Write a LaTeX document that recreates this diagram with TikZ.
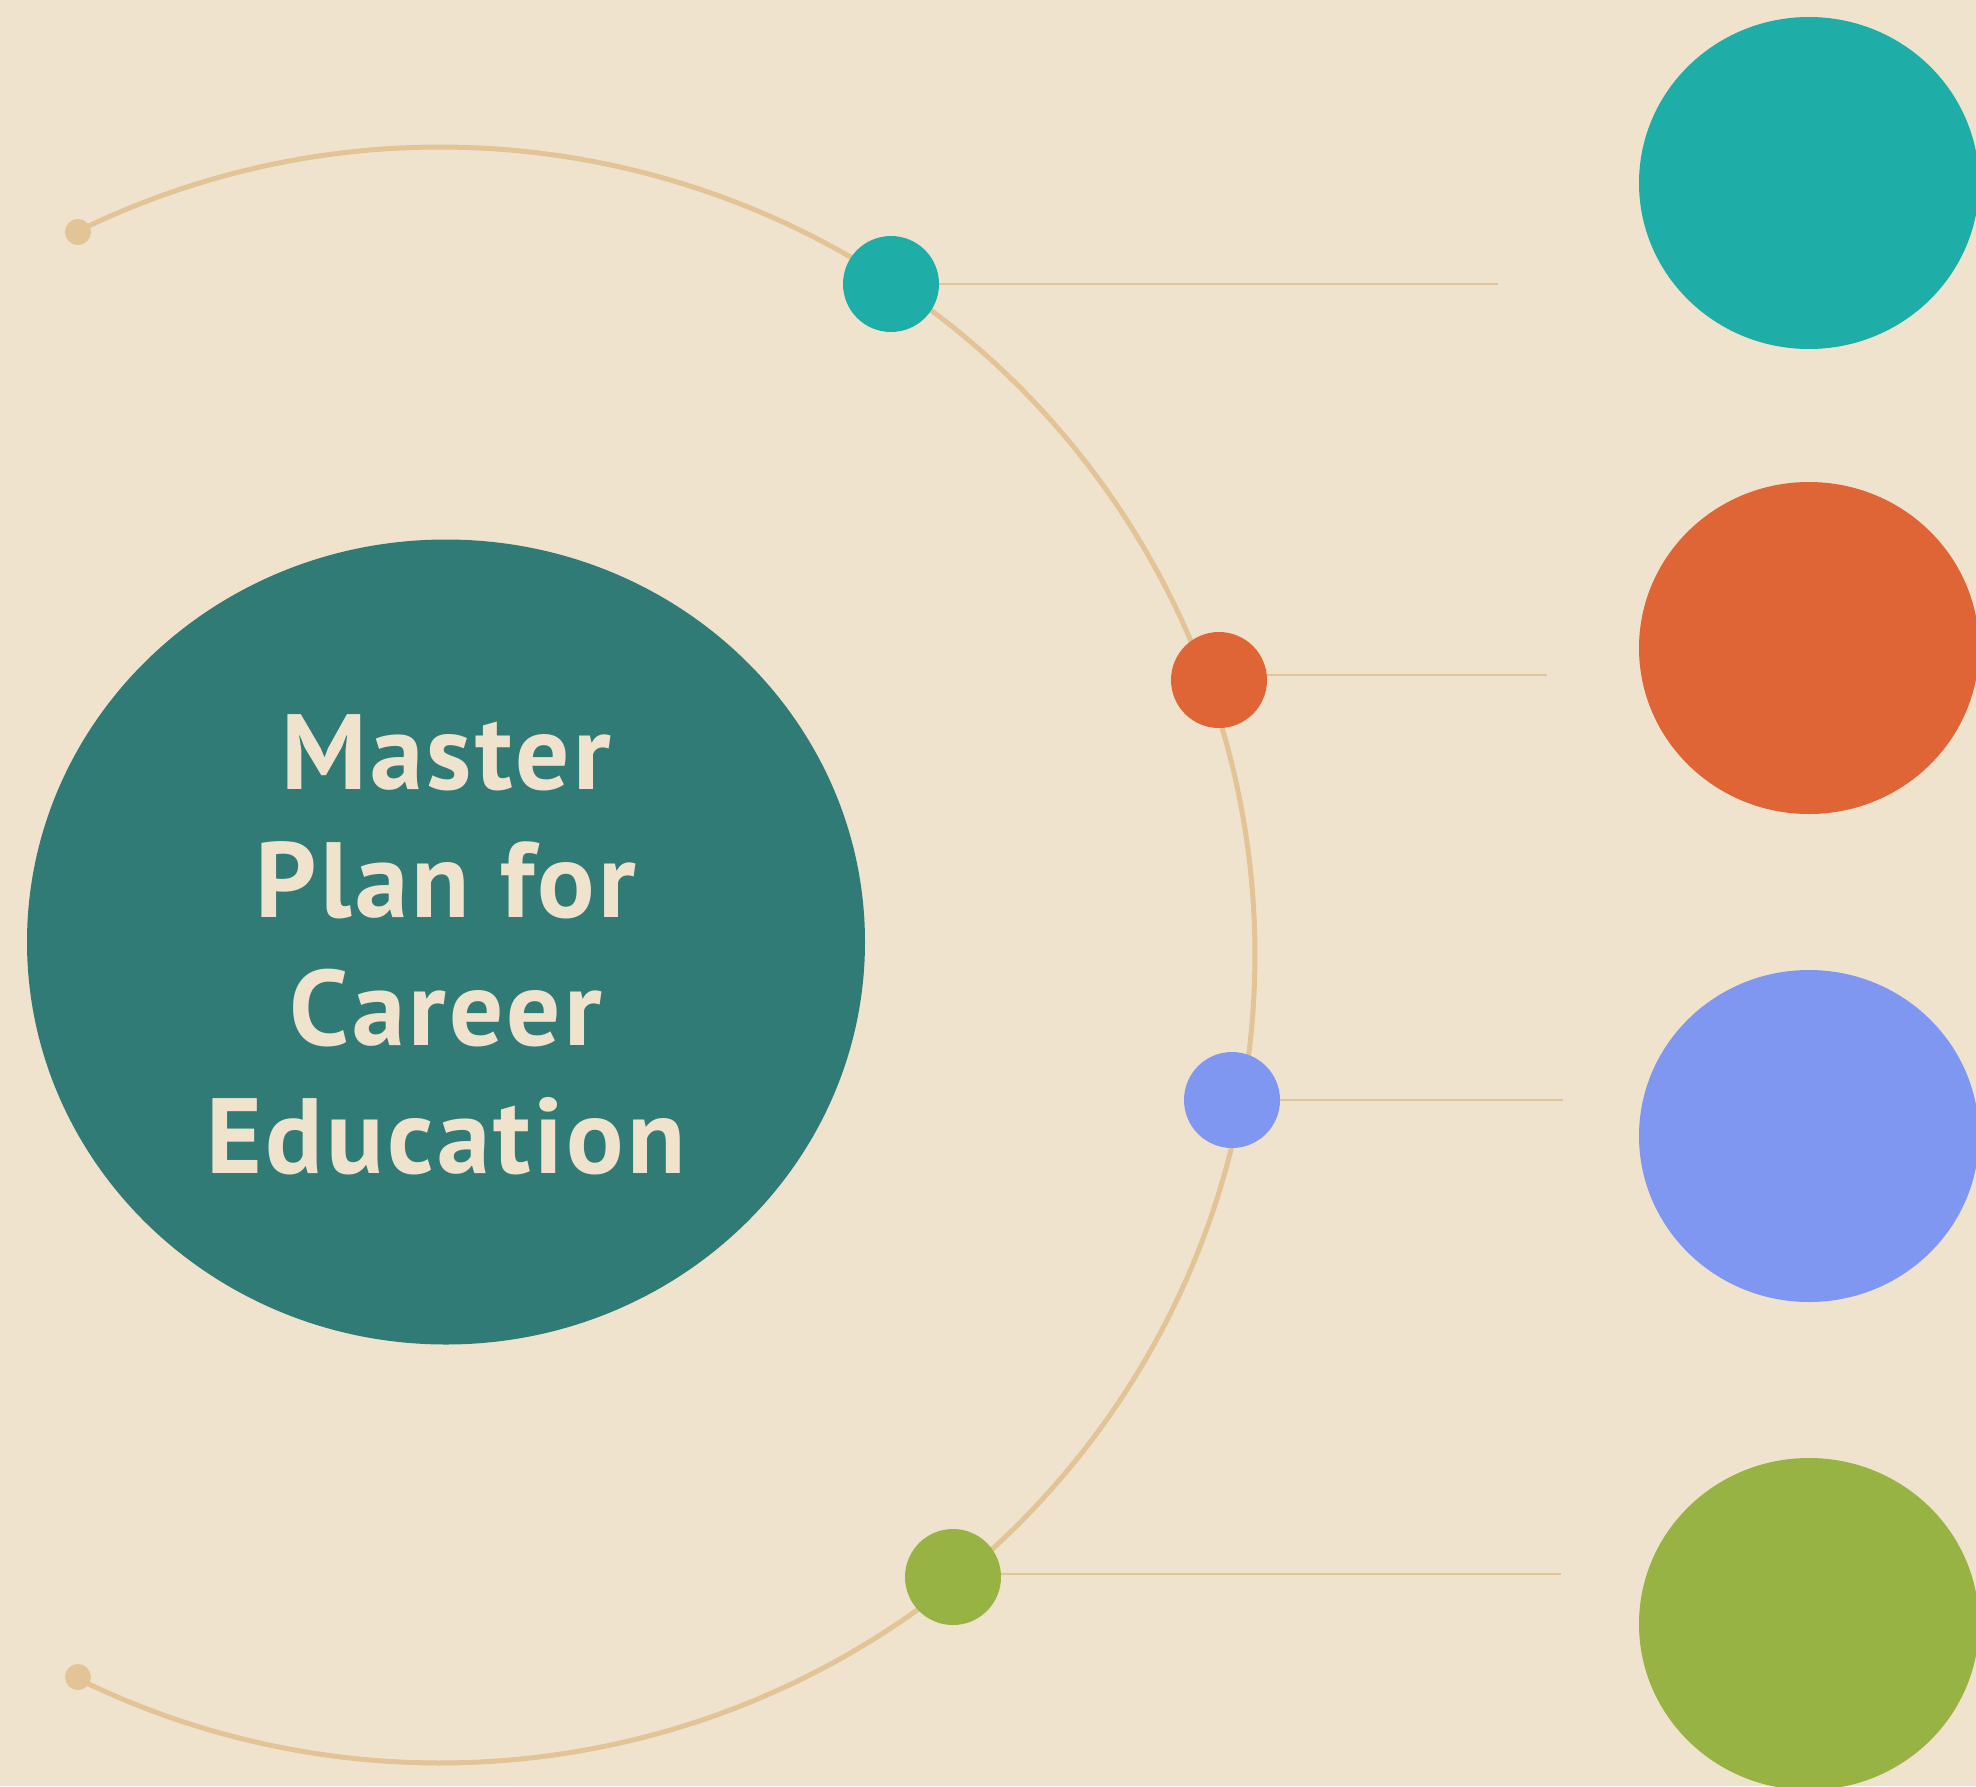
\documentclass[tikz,border=0pt]{standalone}
\usepackage{fontspec}
\setmainfont{PT Sans}[LetterSpace=3.2]
\usetikzlibrary{shapes.geometric}
\definecolor{bg}{HTML}{F0E3CD}
\definecolor{arcc}{HTML}{E2C496}
\definecolor{tealc}{HTML}{1FADA7}
\definecolor{darkc}{HTML}{317B77}
\definecolor{orangec}{HTML}{E06536}
\definecolor{bluec}{HTML}{8097F2}
\definecolor{greenc}{HTML}{96B343}
\tikzset{
  dot/.style={circle, fill=#1, draw=none, minimum size=96pt, inner sep=0pt},
  endcap/.style={circle, fill=arcc, draw=none, minimum size=26pt, inner sep=0pt},
  big/.style={ellipse, fill=#1, draw=none, minimum width=340pt, minimum height=332pt, inner sep=0pt},
  tick/.style={draw=arcc, line width=2pt},
  title/.style={text=bg, anchor=base, font=\fontsize{107}{128}\selectfont\bfseries},
}
\begin{document}
\begin{tikzpicture}[x=1pt,y=-1pt]
\fill[bg] (0,0) rectangle (1976,1786);
\useasboundingbox (0,0) rectangle (1976,1786);
% central hub
\node[ellipse, fill=darkc, minimum width=838pt, minimum height=805pt, inner sep=0pt] (hub) at (446,942) {};
\node[title] (t1) at (446,789) {Master};
\node[title] (t2) at (446,917) {Plan for};
\node[title] (t3) at (446,1045) {Career};
\node[title] (t4) at (446,1173) {Education};
% arc
\draw[arcc, line width=5pt] plot[domain=-116.4:116.4, samples=240] ({440+815*cos(\x)},{955+808*sin(\x)});
\node[endcap] (e1) at (78,232) {};
\node[endcap] (e2) at (78,1677) {};
% end coordinates of ticks
\coordinate (c1) at (1498,284);
\coordinate (c2) at (1547,675);
\coordinate (c3) at (1563,1100);
\coordinate (c4) at (1561,1574);
\path (891,284) coordinate (p1) (1219,680) coordinate (p2) (1232,1100) coordinate (p3) (953,1577) coordinate (p4);
\draw[tick] (p1 |- c1) -- (c1);
\draw[tick] (p2 |- c2) -- (c2);
\draw[tick] (p3 |- c3) -- (c3);
\draw[tick] (p4 |- c4) -- (c4);
\node[dot=tealc] (d1) at (p1) {};
\node[dot=orangec] (d2) at (p2) {};
\node[dot=bluec] (d3) at (p3) {};
\node[dot=greenc] (d4) at (p4) {};
% big circles
\node[big=tealc] (b1) at (1809,183) {};
\node[big=orangec] (b2) at (1809,648) {};
\node[big=bluec] (b3) at (1809,1136) {};
\node[big=greenc] (b4) at (1809,1624) {};
\end{tikzpicture}
\end{document}
